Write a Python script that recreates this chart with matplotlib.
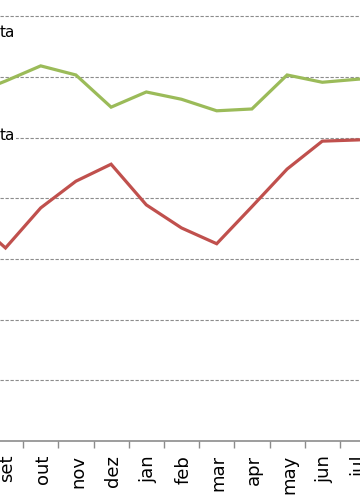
import numpy as np
import matplotlib
matplotlib.use("Agg")
import matplotlib.pyplot as plt
from matplotlib.transforms import ScaledTranslation

plt.rcParams['font.family'] = ['DejaVu Sans']

# first and last month sit outside the cropped view, only the line stubs show
months = ["ago", "set", "out", "nov", "dez", "jan", "feb", "mar", "apr", "may", "jun", "jul", "aug"]
green_vals = [5.70, 5.93, 6.18, 6.03, 5.50, 5.75, 5.63, 5.44, 5.47, 6.03, 5.91, 5.96, 6.00]
red_vals   = [3.70, 3.18, 3.84, 4.28, 4.56, 3.89, 3.51, 3.25, 3.86, 4.48, 4.94, 4.96, 4.99]
grid_levels = [1, 2, 3, 4, 5, 6, 7]

GREEN = "#9BBB59"
RED   = "#C0504D"

fig = plt.figure(figsize=(3.6, 5.04), dpi=100)
# axes spills past the figure edges: the chart is a crop of a wider one
ax = fig.add_axes([0, 63 / 504, 1, 441 / 504])

x = np.arange(len(months)) - 1
ax.plot(x, green_vals, color=GREEN, lw=2.3, solid_joinstyle="miter", zorder=3)
ax.plot(x, red_vals, color=RED, lw=2.3, solid_joinstyle="miter", zorder=3)

for g in grid_levels:
    ax.axhline(g, color="#8c8c8c", lw=0.8, ls=(0, (3, 1.5)), zorder=1)

ax.set_xticks(x)
ax.set_xticklabels(months, rotation=90, fontsize=13)
ax.tick_params(axis="x", which="major", length=0, pad=10)
ax.set_xticks(x[:-1] + 0.5, minor=True)
ax.tick_params(axis="x", which="minor", length=5, width=1, color="#8c8c8c", direction="out")
ax.set_yticks([])
shift = ScaledTranslation(2 / 100, 0, fig.dpi_scale_trans)
for lab in ax.get_xticklabels():
    lab.set_transform(lab.get_transform() + shift)

px_per_cat = 35.2
x0 = 5.5
ax.set_xlim(-x0 / px_per_cat, (360 - x0) / px_per_cat)
ax.set_ylim(0, 441 / 60.7)

for side in ["left", "right", "top"]:
    ax.spines[side].set_visible(False)
ax.spines["bottom"].set_color("#8c8c8c")
ax.spines["bottom"].set_linewidth(1.2)

box = dict(facecolor="white", edgecolor="none", pad=0.5)
fig.text(15 / 360, 1 - 37 / 504, "ta", ha="right", va="baseline", fontsize=11, bbox=box)
fig.text(15 / 360, 1 - 140 / 504, "ta", ha="right", va="baseline", fontsize=11, bbox=box, zorder=5)

fig.savefig("out.png", dpi=100)
